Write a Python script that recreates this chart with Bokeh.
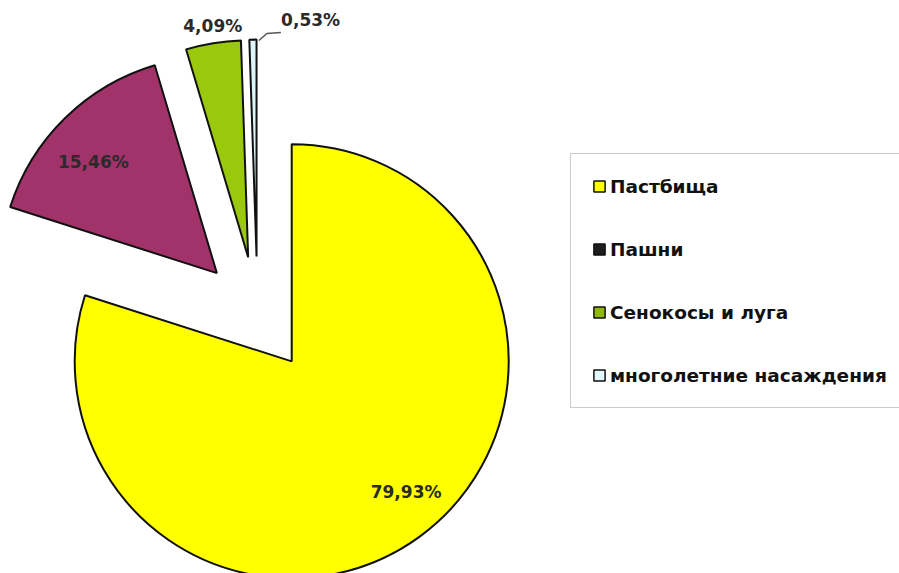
import numpy as np
from bokeh.plotting import figure
from bokeh.models import Range1d, Legend, LegendItem, ColumnDataSource
from bokeh.core.properties import value
from bokeh.embed import file_html
from bokeh.resources import INLINE

# ---- data ----
categories = ["Пастбища", "Пашни", "Сенокосы и луга", "многолетние насаждения"]
shares = [79.93, 15.46, 4.09, 0.53]
labels = ["79,93%", "15,46%", "4,09%", "0,53%"]
colors = ["#FFFF00", "#A2336A", "#99C80C", "#DDF5F8"]
legend_colors = ["#FFFF00", "#1E1E1E", "#8FB80A", "#E2F8FA"]

# ---- layout ----
W, H = 899, 573
CX, CY = 257.0, 259.0      # pie centre (data units = pixels, y measured from window bottom)
R = 217.0                  # radius
EXPLODE = 58.0             # explosion distance
label_r = [0.80, 0.78, 1.07, 1.09]
label_dx = [12, -5, 2, 58]
label_dy = [10, -10, 2, 0]

p = figure(width=W, height=H, x_range=Range1d(0, W), y_range=Range1d(573 - H, 573),
           output_backend="svg", toolbar_location=None, min_border=0,
           x_axis_type=None, y_axis_type=None)
p.grid.visible = False
p.outline_line_color = None

vals = np.array(shares, dtype=float)
frac = vals / vals.sum()
cum = np.cumsum(frac)
prev = np.concatenate([[0.0], cum[:-1]])
a0 = np.pi / 2 - 2 * np.pi * prev
a1 = np.pi / 2 - 2 * np.pi * cum
mid = (a0 + a1) / 2
ax = CX + EXPLODE * np.cos(mid)
ay = CY + EXPLODE * np.sin(mid)

src = ColumnDataSource(dict(x=ax, y=ay, start=a1, end=a0, color=colors))
p.wedge(x="x", y="y", radius=R, start_angle="start", end_angle="end",
        fill_color="color", line_color="#111111", line_width=2, source=src)

lx = ax + np.array(label_r) * R * np.cos(mid) + np.array(label_dx)
ly = ay + np.array(label_r) * R * np.sin(mid) + np.array(label_dy)
p.text(x=lx, y=ly, text=labels, text_align="center", text_baseline="middle",
       text_font=value("DejaVu Sans"), text_font_style="bold",
       text_font_size="17px", text_color="#2a2a2a")

# leader line for the thin slice
tx = ax[3] + R * np.cos(mid[3])
ty = ay[3] + R * np.sin(mid[3])
p.line(x=[tx + 6, tx + 14, tx + 28], y=[ty - 1, ty + 6, ty + 7],
       line_color="#555555", line_width=1.5)

# legend (icons drawn as in the reference)
items = []
for name, col in zip(categories, legend_colors):
    r = p.rect(x=[-5000], y=[-5000], width=1, height=1, fill_color=col,
               line_color="#111111", line_width=1.5)
    items.append(LegendItem(label=name, renderers=[r]))

legend = Legend(items=items, location=(570, H - 408),
                label_text_font="DejaVu Sans", label_text_font_style="bold",
                label_text_font_size="18.5px", label_text_color="#111111",
                glyph_width=14, glyph_height=14, label_standoff=4,
                label_height=22, spacing=41, padding=21, margin=0,
                border_line_color="#9a9a9a", border_line_width=1.5,
                background_fill_color="white", background_fill_alpha=1)
p.add_layout(legend)

open("out.html", "w").write(file_html(p, INLINE))
